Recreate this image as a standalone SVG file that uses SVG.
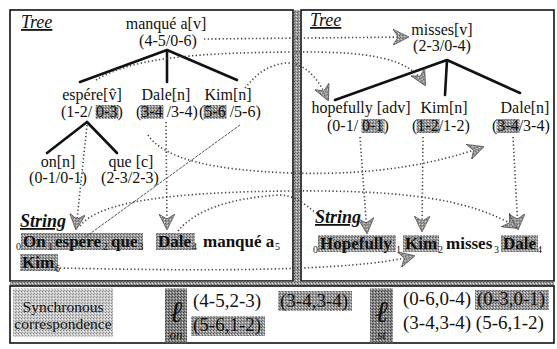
<svg xmlns="http://www.w3.org/2000/svg" width="557" height="349" viewBox="0 0 557 349" font-family="'Liberation Serif', 'Times New Roman', serif">
<defs>
  <pattern id="grain" width="3" height="3" patternUnits="userSpaceOnUse">
    <rect width="3" height="3" fill="#9c9c9c"/>
    <rect x="0" y="0" width="1" height="1" fill="#5a5a5a"/>
    <rect x="2" y="1" width="1" height="1" fill="#dcdcdc"/>
    <rect x="1" y="2" width="1" height="1" fill="#6e6e6e"/>
  </pattern>
  <pattern id="grainLight" width="3" height="3" patternUnits="userSpaceOnUse">
    <rect width="3" height="3" fill="#c9c9c9"/>
    <rect x="0" y="0" width="1" height="1" fill="#8a8a8a"/>
    <rect x="2" y="1" width="1" height="1" fill="#f0f0f0"/>
    <rect x="1" y="2" width="1" height="1" fill="#a0a0a0"/>
  </pattern>
  <pattern id="grainDark" width="3" height="3" patternUnits="userSpaceOnUse">
    <rect width="3" height="3" fill="#858585"/>
    <rect x="0" y="0" width="1" height="1" fill="#3c3c3c"/>
    <rect x="2" y="1" width="1" height="1" fill="#c8c8c8"/>
    <rect x="1" y="2" width="1" height="1" fill="#555"/>
  </pattern>
  <marker id="head" viewBox="0 0 16 16" refX="15" refY="8" markerWidth="16" markerHeight="16" markerUnits="userSpaceOnUse" orient="auto">
    <path d="M0,0 L16,8 L0,16 L5,8 Z" fill="url(#grain)" stroke="#333" stroke-width="0.6"/>
  </marker>
  <style>
    text { font-family: 'Liberation Serif', 'Times New Roman', serif; fill: #111; }
    .lbl { font-size: 16px; }
    .mid { text-anchor: middle; }
    .hd { font-size: 18px; font-style: italic; text-decoration: underline; }
    .hdb { font-size: 18px; font-style: italic; font-weight: bold; text-decoration: underline; }
    .str { font-size: 17px; font-weight: bold; }
    .sub { font-size: 10px; }
    .cor { font-size: 19px; }
    .hl { fill: url(#grain); }
    .frame { fill: none; stroke: #111; stroke-width: 1.6; }
    .branch { stroke: #111; stroke-width: 2.6; fill: none; stroke-linecap: round; }
    .dot { fill: none; stroke: #444; stroke-width: 1.6; stroke-dasharray: 1.3 2.4; }
    .thin { fill: none; stroke: #555; stroke-width: 1; stroke-dasharray: 3 1; }
  </style>
</defs>

<rect width="557" height="349" fill="#fff"/>

<!-- panel frames -->
<g id="frames">
  <rect class="frame" x="10" y="10" width="283" height="271"/>
  <rect class="frame" x="301" y="10" width="253" height="271"/>
  <rect x="294" y="10" width="6" height="275" fill="url(#grain)"/>
  <rect x="10" y="281.5" width="544" height="4" fill="url(#grain)"/>
  <rect class="frame" x="10" y="286" width="544" height="57"/>
</g>

<!-- section headings -->
<g id="headings">
  <text class="hd" x="21" y="28">Tree</text>
  <text class="hd" x="310" y="26">Tree</text>
  <text class="hdb" x="20" y="227">String</text>
  <text class="hdb" x="315" y="223">String</text>
</g>

<!-- tree branches -->
<g id="branches">
  <path class="branch" d="M167,50 L80,82 M167,50 L167,82 M167,50 L237,80"/>
  <path class="branch" d="M87,122 L47,153 M87,122 L117,153"/>
  <path class="branch" d="M447,60 L335,100 M447,60 L445,95 M447,60 L520,93"/>
</g>

<!-- source tree nodes -->
<g id="n-manque">
  <text class="lbl mid" x="166" y="29">manqué a[v]</text>
  <text class="lbl mid" x="168" y="46">(4-5/0-6)</text>
</g>
<g id="n-espere">
  <text class="lbl mid" x="92" y="100">espére[v̂]</text>
  <rect class="hl" x="95.5" y="105" width="23" height="14"/>
  <text class="lbl" x="61" y="117">(1-2/ 0-3)</text>
</g>
<g id="n-dale-src">
  <text class="lbl mid" x="166" y="100">Dale[n]</text>
  <rect class="hl" x="140.5" y="105" width="23" height="14"/>
  <text class="lbl" x="136" y="117">(3-4 /3-4)</text>
</g>
<g id="n-kim-src">
  <text class="lbl mid" x="228" y="100">Kim[n]</text>
  <rect class="hl" x="203.5" y="105" width="23" height="14"/>
  <text class="lbl" x="199" y="117">(5-6 /5-6)</text>
</g>
<g id="n-on">
  <text class="lbl mid" x="58" y="167">on[n]</text>
  <text class="lbl mid" x="58" y="183">(0-1/0-1)</text>
</g>
<g id="n-que">
  <text class="lbl mid" x="131" y="167">que [c]</text>
  <text class="lbl mid" x="130" y="183">(2-3/2-3)</text>
</g>

<!-- target tree nodes -->
<g id="n-misses">
  <text class="lbl mid" x="442" y="35">misses[v]</text>
  <text class="lbl mid" x="442" y="51">(2-3/0-4)</text>
</g>
<g id="n-hopefully">
  <text class="lbl mid" x="361" y="113">hopefully [adv]</text>
  <rect class="hl" x="361.5" y="119" width="23" height="14"/>
  <text class="lbl" x="327" y="131">(0-1/ 0-1)</text>
</g>
<g id="n-kim-tgt">
  <text class="lbl mid" x="444" y="113">Kim[n]</text>
  <rect class="hl" x="416.5" y="119" width="23" height="14"/>
  <text class="lbl" x="412" y="131">(1-2/1-2)</text>
</g>
<g id="n-dale-tgt">
  <text class="lbl mid" x="525" y="113">Dale[n]</text>
  <rect class="hl" x="496.5" y="119" width="23" height="14"/>
  <text class="lbl" x="492" y="131">(3-4/3-4)</text>
</g>

<!-- source string -->
<g id="s-source">
  <rect class="hl" x="21" y="233" width="122" height="17"/>
  <rect class="hl" x="156" y="233" width="39" height="17"/>
  <rect class="hl" x="20" y="254" width="38" height="17"/>
  <text class="sub" x="16" y="250">0</text>
  <text class="str" x="23" y="247">On</text>
  <text class="sub" x="48" y="250">1</text>
  <text class="str" x="55" y="247">espere</text>
  <text class="sub" x="103" y="250">2</text>
  <text class="str" x="111" y="247">que</text>
  <text class="sub" x="138.5" y="250">3</text>
  <text class="str" x="158" y="247">Dale</text>
  <text class="sub" x="192" y="250">4</text>
  <text class="str" x="203" y="247">manqué a</text>
  <text class="sub" x="275" y="250">5</text>
  <text class="str" x="22" y="268">Kim</text>
  <text class="sub" x="55" y="272">6</text>
</g>

<!-- target string -->
<g id="s-target">
  <rect class="hl" x="318" y="235" width="78" height="17"/>
  <rect class="hl" x="403" y="235" width="36" height="17"/>
  <rect class="hl" x="501" y="235" width="37" height="17"/>
  <text class="sub" x="313" y="253">0</text>
  <text class="str" x="320" y="249">Hopefully</text>
  <text class="sub" x="396" y="253">1</text>
  <text class="str" x="405" y="249">Kim</text>
  <text class="sub" x="438" y="253">2</text>
  <text class="str" x="446" y="249">misses</text>
  <text class="sub" x="494" y="253">3</text>
  <text class="str" x="503" y="249">Dale</text>
  <text class="sub" x="537" y="253">4</text>
</g>

<!-- correspondence sets -->
<g id="correspondence">
  <rect x="13" y="288.5" width="100" height="48" fill="url(#grainLight)"/>
  <text class="mid" x="63" y="312" font-size="15.5">Synchronous</text>
  <text class="mid" x="63" y="329" font-size="15.5">correspondence</text>
</g>
<g id="l-on">
  <rect x="165" y="288.5" width="22" height="54" fill="url(#grainDark)"/>
  <text class="mid" x="176" y="322" font-size="30" font-style="italic">ℓ</text>
  <text class="mid" x="176" y="339" font-size="13" font-style="italic">on</text>
  <text class="cor" x="193" y="307">(4-5,2-3)</text>
  <rect class="hl" x="278" y="291" width="74" height="20"/>
  <text class="cor" x="280" y="307">(3-4,3-4)</text>
  <rect class="hl" x="191" y="316" width="74" height="20"/>
  <text class="cor" x="193" y="331">(5-6,1-2)</text>
</g>
<g id="l-st">
  <rect x="370" y="288.5" width="23" height="54" fill="url(#grainDark)"/>
  <text class="mid" x="381.5" y="322" font-size="30" font-style="italic">ℓ</text>
  <text class="mid" x="381.5" y="339" font-size="13" font-style="italic">st</text>
  <text class="cor" x="403" y="305">(0-6,0-4)</text>
  <rect class="hl" x="475" y="290" width="74" height="20"/>
  <text class="cor" x="477" y="305">(0-3,0-1)</text>
  <text class="cor" x="403" y="329">(3-4,3-4) (5-6,1-2)</text>
</g>

<!-- alignment connectors -->
<g id="connectors">
  <path class="dot" marker-end="url(#head)" d="M204,39 L408,37"/>
  <path class="dot" marker-end="url(#head)" d="M96,80 C130,60 180,53 290,52 C370,51 410,58 425,85"/>
  <path class="dot" marker-end="url(#head)" d="M245,88 C255,76 265,66 285,63 C305,62 318,78 328,100"/>
  <path class="dot" marker-end="url(#head)" d="M87,125 L76,229"/>
  <path class="dot" marker-end="url(#head)" d="M166,122 L167,229"/>
  <path class="thin" d="M240,125 L84,238"/>
  <path class="dot" marker-end="url(#head)" d="M148,135 C165,160 215,170 290,173 C380,176 440,162 483,147"/>
  <path class="dot" marker-end="url(#head)" d="M80,226 C100,200 180,192 290,191 C400,190 470,198 518,228"/>
  <path class="dot" d="M178,231 C195,210 230,198 280,195 C300,196 310,210 318,214"/>
  <path class="dot" marker-end="url(#head)" d="M60,268 C200,271 350,272 414,256"/>
  <path class="dot" marker-end="url(#head)" d="M360,137 L367,233"/>
  <path class="dot" marker-end="url(#head)" d="M423,137 L422,231"/>
  <path class="dot" marker-end="url(#head)" d="M513,137 L518,229"/>
</g>
</svg>
